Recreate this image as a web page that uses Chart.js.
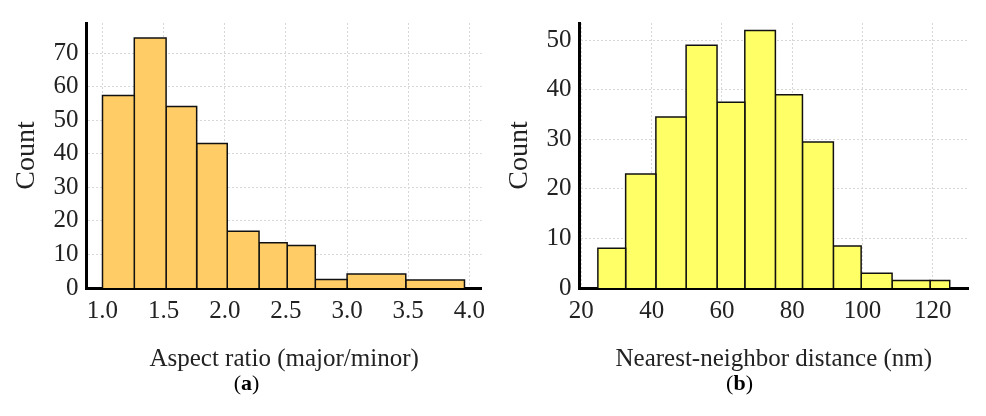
<!DOCTYPE html>
<html>
<head>
<meta charset="utf-8">
<script src="https://cdn.jsdelivr.net/npm/chart.js@4.4.0/dist/chart.umd.min.js"></script>
<style>
  body { margin: 0; background: #fff; font-family: 'Liberation Serif', serif; }
  .wrap { display: flex; width: 986px; }
  .panel { width: 493px; position: relative; }
  .panel canvas { display: block; }
  .tag { text-align: center; font-size: 22px; margin-top: -8px; }
</style>
</head>
<body>
<div class="wrap">
  <div class="panel"><canvas id="chartA" width="493" height="378"></canvas><div class="tag">(<b>a</b>)</div></div>
  <div class="panel"><canvas id="chartB" width="493" height="378"></canvas><div class="tag">(<b>b</b>)</div></div>
</div>
<script>
// Panel (a): aspect ratio histogram
const aspectEdges = [1.0, 1.26, 1.52, 1.77, 2.02, 2.28, 2.51, 2.74, 3.0, 3.48, 3.96];
const aspectCounts = [57.4, 74.5, 54.1, 43.1, 16.9, 13.5, 12.7, 2.5, 4.2, 2.4];

// Panel (b): nearest-neighbor distance histogram
const distEdges = [24.7, 32.6, 41.2, 49.8, 58.6, 66.5, 75.2, 82.9, 91.7, 99.6, 108.4, 119.2, 124.8];
const distCounts = [8, 23, 34.5, 49, 37.5, 52, 39, 29.5, 8.5, 3, 1.5, 1.5];

// one closed box per bin
function binDatasets(edges, counts, fill) {
  return counts.map((c, i) => ({
    data: [
      { x: edges[i], y: 0 }, { x: edges[i], y: c },
      { x: edges[i + 1], y: c }, { x: edges[i + 1], y: 0 },
    ],
    borderColor: '#111', borderWidth: 1.5, backgroundColor: fill,
    fill: 'origin', pointRadius: 0, tension: 0,
  }));
}

const axisFont = { family: 'Liberation Serif', size: 25 };

function makeChart(id, edges, counts, fill, xOpts, yOpts, xTitle, padRight) {
  new Chart(document.getElementById(id), {
    type: 'line',
    data: { datasets: binDatasets(edges, counts, fill) },
    options: {
      responsive: false,
      animation: false,
      layout: { padding: { top: 14, right: padRight, left: 8 } },
      plugins: { legend: { display: false }, tooltip: { enabled: false } },
      scales: {
        x: {
          type: 'linear', min: xOpts.min, max: xOpts.max,
          afterBuildTicks: ax => { ax.ticks = xOpts.ticks.map(v => ({ value: v })); },
          ticks: { font: axisFont, color: '#222', padding: 8, autoSkip: false, maxRotation: 0, callback: v => xOpts.fmt(v) },
          grid: { color: '#d8d8d8', lineWidth: 1, tickLength: 0 },
          border: { color: '#000', width: 3, dash: [2, 2] },
          title: { display: true, text: xTitle, font: { family: 'Liberation Serif', size: 25 }, color: '#222', padding: { top: 10 } },
        },
        y: {
          min: yOpts.min, max: yOpts.max,
          afterBuildTicks: ax => { ax.ticks = yOpts.ticks.map(v => ({ value: v })); },
          ticks: { font: axisFont, color: '#222', padding: 8 },
          grid: { color: '#d8d8d8', lineWidth: 1, tickLength: 0 },
          border: { color: '#000', width: 3, dash: [2, 2] },
          title: { display: true, text: 'Count', font: { family: 'Liberation Serif', size: 28 }, color: '#222', padding: 2 },
        },
      },
    },
  });
}

const xTicksA = [1.0, 1.5, 2.0, 2.5, 3.0, 3.5, 4.0];
const yTicksA = [0, 10, 20, 30, 40, 50, 60, 70];
const xTicksB = [20, 40, 60, 80, 100, 120];
const yTicksB = [0, 10, 20, 30, 40, 50];

makeChart('chartA', aspectEdges, aspectCounts, '#FFCC66',
  { min: 0.87, max: 4.1, ticks: xTicksA, fmt: v => v.toFixed(1) },
  { min: 0, max: 79, ticks: yTicksA },
  'Aspect ratio (major/minor)', 0);

makeChart('chartB', distEdges, distCounts, '#FFFF66',
  { min: 19.5, max: 130, ticks: xTicksB, fmt: v => String(v) },
  { min: 0, max: 53.5, ticks: yTicksB },
  'Nearest-neighbor distance (nm)', 18);
</script>
</body>
</html>
